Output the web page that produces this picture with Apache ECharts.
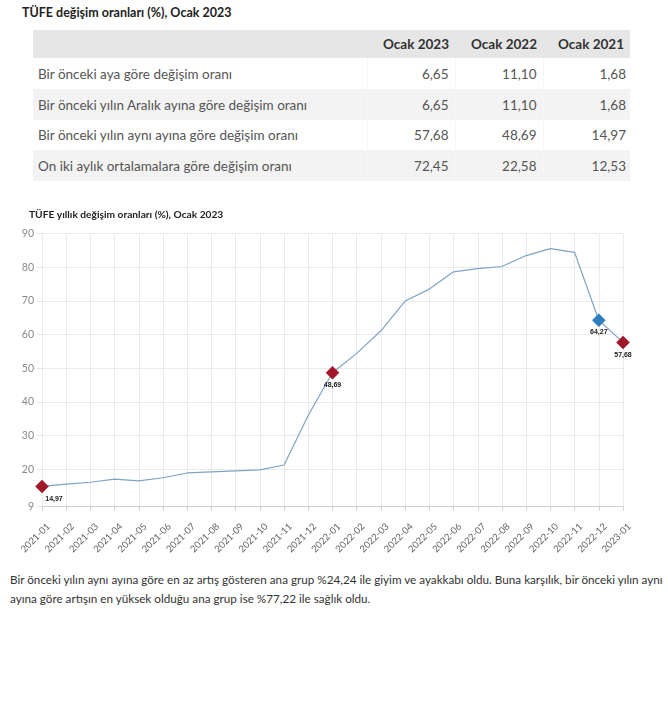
<!DOCTYPE html>
<html>
<head>
<meta charset="utf-8">
<script src="https://cdn.jsdelivr.net/npm/echarts@6/dist/echarts.min.js"></script>
<style>
  html, body { margin: 0; padding: 0; background: #fff; width: 668px; height: 706px; overflow: hidden; }
  body { position: relative; font-family: Lato, "Open Sans", sans-serif; }
  #t1 { position: absolute; left: 22px; top: 5px; font-size: 12.5px; font-weight: bold; color: #222; }
  table { position: absolute; left: 33px; top: 30px; border-collapse: collapse; table-layout: fixed; width: 597px; font-size: 13.5px; color: #555; }
  th, td { padding: 0 6px; white-space: nowrap; box-sizing: border-box; }
  th { background: #e6e6e6; height: 28px; text-align: right; color: #333; font-weight: bold; }
  td { height: 31px; text-align: right; border-left: 1px solid #f6f6f6; }
  tr.r3 td { height: 30px; }
  td.lab { text-align: left; padding-left: 5px; border-left: none; }
  tr.alt td { background: #f3f3f3; }
  #chart { position: absolute; left: 0; top: 195px; width: 668px; height: 370px; }
  #para { position: absolute; left: 10px; top: 570px; width: 655px; font-size: 11.7px; line-height: 19px; color: #333; }
</style>
</head>
<body>
<div id="t1"></div>
<table id="tbl"></table>
<div id="chart"></div>
<div id="para"></div>
<script>
// ---- Table data ----
var tableTitle = "TÜFE değişim oranları (%), Ocak 2023";
var tableColumns = ["Ocak 2023", "Ocak 2022", "Ocak 2021"];
var tableRowLabels = [
  "Bir önceki aya göre değişim oranı",
  "Bir önceki yılın Aralık ayına göre değişim oranı",
  "Bir önceki yılın aynı ayına göre değişim oranı",
  "On iki aylık ortalamalara göre değişim oranı"
];
var tableValues = [
  ["6,65", "11,10", "1,68"],
  ["6,65", "11,10", "1,68"],
  ["57,68", "48,69", "14,97"],
  ["72,45", "22,58", "12,53"]
];

// ---- Chart data ----
var chartTitle = "TÜFE yıllık değişim oranları (%), Ocak 2023";
var months = ["2021-01","2021-02","2021-03","2021-04","2021-05","2021-06","2021-07","2021-08","2021-09","2021-10","2021-11","2021-12",
              "2022-01","2022-02","2022-03","2022-04","2022-05","2022-06","2022-07","2022-08","2022-09","2022-10","2022-11","2022-12","2023-01"];
var annualChange = [14.97,15.61,16.19,17.14,16.59,17.53,18.95,19.25,19.58,19.89,21.31,36.08,
                    48.69,54.44,61.14,69.97,73.50,78.62,79.60,80.21,83.45,85.51,84.39,64.27,57.68];
var redMonths = ["2021-01","2022-01","2023-01"];
var blueMonths = ["2022-12"];
var yTickValues = [9,20,30,40,50,60,70,80,90];

var paragraph = "Bir önceki yılın aynı ayına göre en az artış gösteren ana grup %24,24 ile giyim ve ayakkabı oldu. Buna karşılık, bir önceki yılın aynı ayına göre artışın en yüksek olduğu ana grup ise %77,22 ile sağlık oldu.";

// ---- Build table ----
document.getElementById('t1').textContent = tableTitle;
var tbl = document.getElementById('tbl');
var colg = '<colgroup><col style="width:334px"><col style="width:88px"><col style="width:88px"><col style="width:87px"></colgroup>';
var html = colg + '<tr><th></th>' + tableColumns.map(function(c){return '<th>'+c+'</th>';}).join('') + '</tr>';
tableRowLabels.forEach(function(l, i){
  var cls = (i % 2 === 1 ? 'alt' : '') + (i === 2 ? ' r3' : '');
  html += '<tr class="' + cls + '"><td class="lab">' + l + '</td>' +
    tableValues[i].map(function(v, j){return '<td' + (j===2?' style="padding-right:4px"':'') + '>' + v + '</td>';}).join('') + '</tr>';
});
tbl.innerHTML = html;
document.getElementById('para').textContent = paragraph;

// ---- Chart ----
var seriesData = annualChange.map(function(v, i){
  var m = months[i];
  var isRed = redMonths.indexOf(m) >= 0, isBlue = blueMonths.indexOf(m) >= 0;
  if (!isRed && !isBlue) return v;
  return {
    value: v,
    symbol: 'diamond',
    symbolSize: 13,
    itemStyle: { color: isRed ? '#a3172a' : '#2e7fc0', borderColor: isRed ? '#8c1222' : '#2a72ad', borderWidth: 0.5 },
    label: {
      show: true,
      position: 'bottom',
      distance: 2,
      offset: i === 0 ? [12, 0] : [0, 0],
      formatter: function(p){ return p.value.toFixed(2).replace('.', ','); },
      fontSize: 7, fontWeight: 'bold', color: '#222', fontFamily: 'Liberation Sans, Arial, sans-serif'
    }
  };
});

var chart = echarts.init(document.getElementById('chart'), null, { renderer: 'canvas' });
chart.setOption({
  animation: false,
  title: {
    text: chartTitle, left: 24, top: 10,
    textStyle: { fontSize: 10.2, fontWeight: 'bold', color: '#222', fontFamily: 'Lato, sans-serif' }
  },
  grid: { left: 42, right: 45, top: 38.5, bottom: 58.5, containLabel: false },
  xAxis: {
    type: 'category', data: months, boundaryGap: false,
    axisLine: { lineStyle: { color: '#cfcfcf' } },
    axisTick: { show: true, length: 4, lineStyle: { color: '#cfcfcf' } },
    axisLabel: { rotate: 45, interval: 0, fontSize: 9.5, color: '#666', margin: 12, verticalAlign: 'top', padding: [4, 0, 0, 0], fontFamily: 'Lato, sans-serif' },
    splitLine: { show: true, lineStyle: { color: '#ebebeb' } }
  },
  yAxis: {
    type: 'value', min: 9, max: 90,
    axisLine: { show: false },
    axisTick: { show: true, length: 5, customValues: yTickValues, lineStyle: { color: '#e4e4e4' } },
    axisLabel: { customValues: yTickValues, fontSize: 10.5, color: '#888', margin: 8, fontFamily: 'Lato, sans-serif' },
    splitLine: { show: true, lineStyle: { color: '#ebebeb' } }
  },
  series: [{
    type: 'line', data: seriesData, symbol: 'none', showSymbol: true,
    lineStyle: { color: '#7fa3c6', width: 1.2 },
    itemStyle: { color: '#7fa3c6' },
    z: 3
  }]
});
</script>
</body>
</html>
